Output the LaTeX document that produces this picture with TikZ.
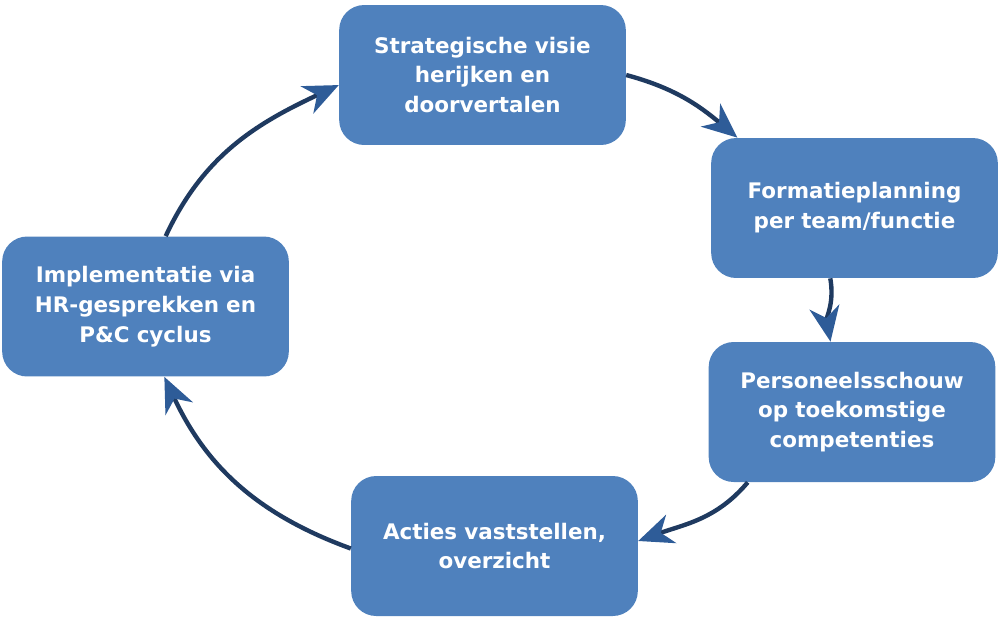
\documentclass[tikz,border=0pt]{standalone}
\usepackage{fontspec}
\setmainfont{DejaVu Sans}
\usetikzlibrary{arrows.meta}
\definecolor{boxblue}{HTML}{4F81BD}
\definecolor{arcnavy}{HTML}{1F3A60}
\definecolor{tipblue}{HTML}{2E5C98}
\begin{document}
\begin{tikzpicture}[x=0.02cm,y=-0.02cm,
    stap/.style={rectangle, rounded corners=0.5cm, fill=boxblue, text=white,
        minimum width=5.7cm, minimum height=2.8cm, text width=5.5cm, align=center,
        font=\fontsize{12.2}{17}\selectfont\bfseries},
    pijl/.style={line width=2.5pt, arcnavy,
        -{Stealth[length=7mm, width=6mm, inset=2.2mm, fill=tipblue, color=tipblue]}}]
\useasboundingbox (0,0) rectangle (1000,620);
% de vijf stappen
\node[stap] (s1) at (482.5,75) {Strategische visie\\herijken en\\doorvertalen};
\node[stap] (s2) at (854.5,208) {Formatieplanning\\per team/functie};
\node[stap] (s3) at (852,412) {Personeelsschouw\\op toekomstige\\competenties};
\node[stap] (s4) at (494.5,546) {Acties vaststellen,\\overzicht};
\node[stap] (s5) at (145.5,306.5) {Implementatie via\\HR-gesprekken en\\P\&C cyclus};
% de cyclus
\draw[pijl] (s1.east) to[out=-15, in=140] (s2.149);
\draw[pijl] (s2.251) to[out=-80, in=100] (s3.107);
\draw[pijl] (s3.214) to[out=230, in=20] (s4.2);
\draw[pijl] (s4.181) to[out=160, in=-65] (s5.285);
\draw[pijl] (s5.74.5) to[out=65, in=205] (s1.184);
\end{tikzpicture}
\end{document}
